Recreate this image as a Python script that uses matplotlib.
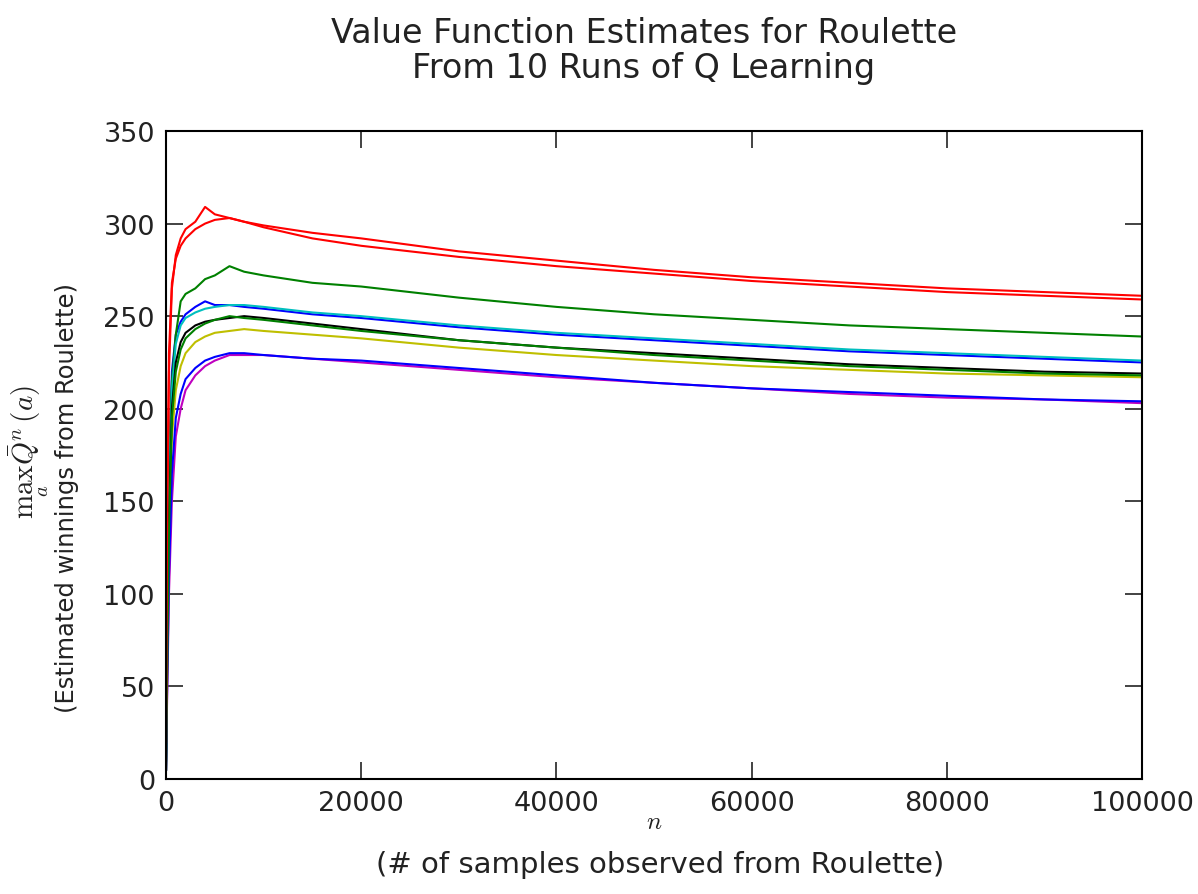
import numpy as np
import matplotlib
matplotlib.use("Agg")
import matplotlib.pyplot as plt

plt.rcParams['mathtext.fontset'] = 'cm'

# samples observed (shared x grid)
n = [0, 100, 300, 600, 1000, 1500, 2000, 3000, 4000, 5000, 6500, 8000, 10000,
     15000, 20000, 30000, 40000, 50000, 60000, 70000, 80000, 90000, 100000]

# estimated value for each of the 10 runs
run1 = [5, 80, 160, 220, 240, 247, 251, 255, 258, 256, 256, 255, 254,
        251, 249, 244, 240, 237, 234, 231, 229, 227, 225]
run2 = [10, 90, 170, 215, 240, 258, 262, 265, 270, 272, 277, 274, 272,
        268, 266, 260, 255, 251, 248, 245, 243, 241, 239]
run3 = [20, 120, 220, 265, 283, 292, 297, 301, 309, 305, 303, 301, 299,
        295, 292, 285, 280, 275, 271, 268, 265, 263, 261]
run4 = [5, 70, 150, 210, 235, 245, 249, 252, 254, 255, 256, 256, 255,
        252, 250, 245, 241, 238, 235, 232, 230, 228, 226]
run5 = [5, 40, 100, 150, 185, 200, 210, 218, 223, 226, 229, 229, 229,
        227, 225, 221, 217, 214, 211, 208, 206, 205, 203]
run6 = [5, 50, 125, 185, 210, 223, 230, 236, 239, 241, 242, 243, 242,
        240, 238, 233, 229, 226, 223, 221, 219, 218, 217]
run7 = [5, 60, 140, 200, 225, 236, 241, 245, 247, 248, 249, 250, 249,
        246, 243, 237, 233, 230, 227, 224, 222, 220, 219]
run8 = [5, 45, 110, 165, 195, 208, 216, 222, 226, 228, 230, 230, 229,
        227, 226, 222, 218, 214, 211, 209, 207, 205, 204]
run9 = [5, 55, 135, 195, 220, 232, 238, 243, 246, 248, 250, 249, 248,
        245, 242, 237, 233, 229, 226, 223, 221, 219, 218]
run10 = [20, 130, 230, 268, 281, 288, 292, 297, 300, 302, 303, 301, 298,
         292, 288, 282, 277, 273, 269, 266, 263, 261, 259]

runs = [run1, run2, run3, run4, run5, run6, run7, run8, run9, run10]
colors = ['b', 'g', 'r', 'c', 'm', 'y', 'k', 'b', 'g', 'r']

txt = '#222222'
fig = plt.figure(figsize=(11.98, 8.95), dpi=100)
ax = fig.add_axes([0.1386, 0.1285, 0.8147, 0.724])

for vals, col in zip(runs, colors):
    ax.plot(n, vals, color=col, lw=1.5)

ax.set_xlim(0, 100000)
ax.set_ylim(0, 350)
ax.set_xticks([0, 20000, 40000, 60000, 80000, 100000])
ax.set_yticks(np.arange(0, 351, 50))
ax.tick_params(direction='in', length=12, width=1.2, top=True, right=True,
               labelsize=19.5, colors=txt, pad=8)
for sp in ax.spines.values():
    sp.set_linewidth(1.5)

# title, two lines
fig.text(0.5376, 0.963, "Value Function Estimates for Roulette",
         fontsize=24, color=txt, ha='center', va='center')
fig.text(0.5376, 0.924, "From 10 Runs of Q Learning",
         fontsize=24, color=txt, ha='center', va='center')

# x label
fig.text(0.546, 0.0816, "$n$", fontsize=18, color=txt, ha='center', va='center')
fig.text(0.551, 0.033, "(# of samples observed from Roulette)",
         fontsize=21, color=txt, ha='center', va='center')

# y label
fig.text(0.024, 0.495, "$\\max_a \\bar{Q}^n(a)$", fontsize=21, color=txt,
         rotation=90, ha='center', va='center')
fig.text(0.056, 0.4436, "(Estimated winnings from Roulette)", fontsize=17.5,
         color=txt, rotation=90, ha='center', va='center')

fig.savefig("out.png", dpi=100)
